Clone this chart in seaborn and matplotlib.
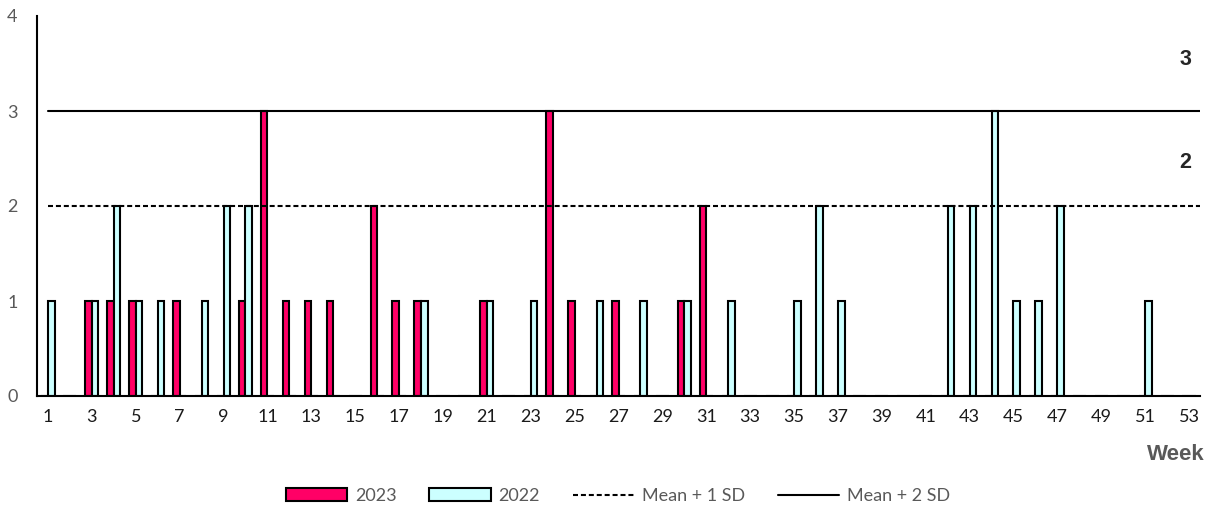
import matplotlib
matplotlib.use("Agg")
import matplotlib.pyplot as plt
import numpy as np
import pandas as pd
import seaborn as sns
from matplotlib.lines import Line2D
from matplotlib.patches import Patch

# weekly counts
weeks = list(range(1, 54))
cases_2023 = [0, 0, 1, 1, 1, 0, 1, 0, 0, 1,
              3, 1, 1, 1, 0, 2, 1, 1, 0, 0,
              1, 0, 0, 3, 1, 0, 1, 0, 0, 1,
              2, 0, 0, 0, 0, 0, 0, 0, 0, 0,
              0, 0, 0, 0, 0, 0, 0, 0, 0, 0,
              0, 0, 0]
cases_2022 = [1, 0, 1, 2, 1, 1, 0, 1, 2, 2,
              0, 0, 0, 0, 0, 0, 0, 1, 0, 0,
              1, 0, 1, 0, 0, 1, 0, 1, 0, 1,
              0, 1, 0, 0, 1, 2, 1, 0, 0, 0,
              0, 2, 2, 3, 1, 1, 2, 0, 0, 0,
              1, 0, 0]
years = ["2023", "2022"]
mean_1sd = 2
mean_2sd = 3
threshold_labels = ["3", "2"]
threshold_label_y = [3.54, 2.46]

colors = {"2023": "#FF0066", "2022": "#CCFFFF"}
grey = "#595959"
dash = (0, (2.4, 1.4))

data = pd.DataFrame({
    "week": [str(w) for w in weeks] * 2,
    "year": ["2023"] * len(weeks) + ["2022"] * len(weeks),
    "cases": cases_2023 + cases_2022,
})

sns.set_style("white")
plt.rcParams["font.family"] = ["Lato", "DejaVu Sans"]

fig = plt.figure(figsize=(12.14, 5.15), dpi=100)
ax = fig.add_axes([37 / 1214, 1 - 396 / 515, (1200 - 37) / 1214, (396 - 16) / 515])

sns.barplot(
    data=data,
    x="week",
    y="cases",
    hue="year",
    order=[str(w) for w in weeks],
    hue_order=years,
    palette=colors,
    width=0.6,
    edgecolor="black",
    linewidth=1.5,
    saturation=1,
    legend=False,
    ax=ax,
)

start = 0.5 / len(weeks)
ax.axhline(mean_1sd, xmin=start, xmax=1, color="black", lw=1.5, ls=dash, zorder=3)
ax.axhline(mean_2sd, xmin=start, xmax=1, color="black", lw=1.5, zorder=3)

for lab, yv in zip(threshold_labels, threshold_label_y):
    ax.text(51.85, yv, lab, ha="center", va="center", fontsize=15.5,
            fontweight="bold", family=["Liberation Sans", "DejaVu Sans"])

ax.set_xlim(-0.5, len(weeks) - 0.5)
ax.set_ylim(0, 4)
ax.set_yticks([0, 1, 2, 3, 4])
ax.tick_params(axis="y", length=0, pad=14, labelsize=13, labelcolor=grey)
ax.set_xticks(range(0, len(weeks), 2))
ax.set_xticklabels([str(w) for w in weeks[::2]])
ax.set_xticks(np.arange(-0.5, len(weeks), 1), minor=True)
ax.tick_params(axis="x", which="major", length=0, pad=9, labelsize=13, labelcolor="#1a1a1a")
ax.tick_params(axis="x", which="minor", length=5, width=1.2, color="black", direction="out")
ax.set_xlabel("")
ax.set_ylabel("")

for side in ["top", "right"]:
    ax.spines[side].set_visible(False)
for side in ["left", "bottom"]:
    ax.spines[side].set_color("black")
    ax.spines[side].set_linewidth(1.5)

fig.text(1176 / 1214, 1 - 454 / 515, "Week", ha="center", va="center", fontsize=16,
         fontweight="bold", color=grey, family=["Liberation Sans", "DejaVu Sans"])

handles = [
    Patch(facecolor=colors["2023"], edgecolor="black", linewidth=1.5),
    Patch(facecolor=colors["2022"], edgecolor="black", linewidth=1.5),
    Line2D([], [], color="black", lw=1.5, ls=dash),
    Line2D([], [], color="black", lw=1.5),
]
leg = fig.legend(
    handles,
    ["2023", "2022", "Mean + 1 SD", "Mean + 2 SD"],
    loc="center",
    bbox_to_anchor=(618 / 1214, 1 - 496 / 515),
    ncol=4,
    frameon=False,
    fontsize=13,
    handlelength=3.4,
    handletextpad=0.45,
    columnspacing=1.8,
)
for t in leg.get_texts():
    t.set_color(grey)

fig.savefig("out.png", dpi=100)
